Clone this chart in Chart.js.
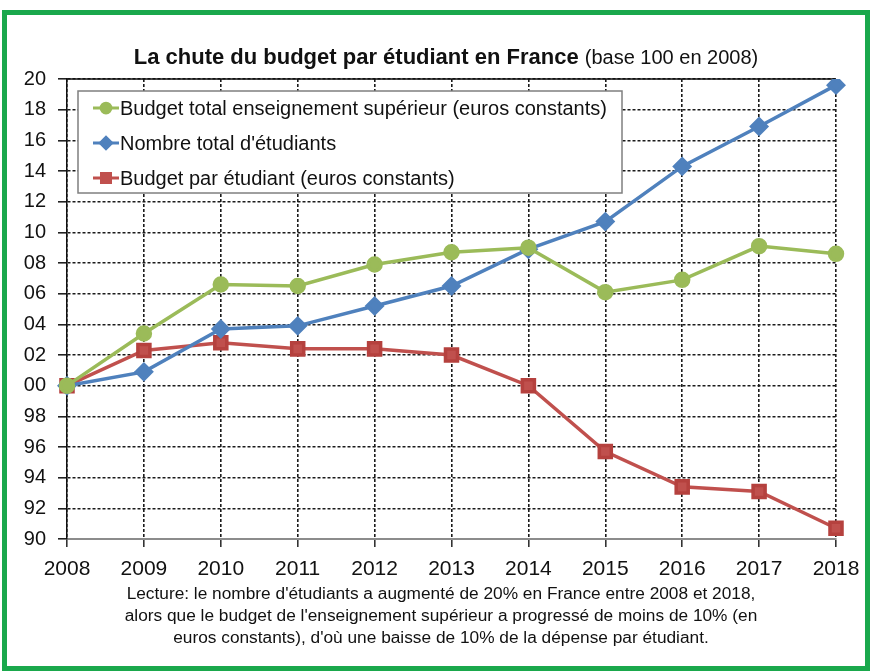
<!DOCTYPE html>
<html>
<head>
<meta charset="utf-8">
<script src="https://cdn.jsdelivr.net/npm/chart.js@4/dist/chart.umd.min.js"></script>
<style>
  html, body { margin: 0; padding: 0; background: #fff; }
  #wrap { position: relative; width: 872px; height: 671px; overflow: hidden; font-family: "Liberation Sans", Arial, sans-serif; }
  #frame { position: absolute; left: 2px; top: 10px; width: 858px; height: 651px; border: 5px solid #1aa84c; }
  #title { position: absolute; left: 0; width: 892px; top: 44px; text-align: center; font-size: 22px; font-weight: bold; color: #111; white-space: nowrap; }
  #title span { font-weight: normal; font-size: 20px; }
  #caption { position: absolute; left: 0; width: 882px; top: 582px; text-align: center; font-size: 17.3px; line-height: 22px; color: #111; }
  canvas { position: absolute; left: 0; top: 0; }
</style>
</head>
<body>
<div id="wrap">
  <canvas id="chart1" width="872" height="671"></canvas>
  <div id="frame"></div>
  <div id="title">La chute du budget par étudiant en France <span>(base 100 en 2008)</span></div>
  <div id="caption">Lecture: le nombre d'étudiants a augmenté de 20% en France entre 2008 et 2018,<br>alors que le budget de l'enseignement supérieur a progressé de moins de 10% (en<br>euros constants), d'où une baisse de 10% de la dépense par étudiant.</div>
</div>
<script>
// indices base 100 en 2008
const years = ['2008', '2009', '2010', '2011', '2012', '2013', '2014', '2015', '2016', '2017', '2018'];

const budgetTotal = [100, 103.4, 106.6, 106.5, 107.9, 108.7, 109.0, 106.1, 106.9, 109.1, 108.6];
const nbEtudiants = [100, 100.9, 103.7, 103.9, 105.2, 106.5, 108.9, 110.7, 114.3, 116.9, 119.6];
const budgetParEtudiant = [100, 102.3, 102.8, 102.4, 102.4, 102.0, 100.0, 95.7, 93.4, 93.1, 90.7];

const yTickValues = [90, 92, 94, 96, 98, 100, 102, 104, 106, 108, 110, 112, 114, 116, 118, 120];
const yTickLabels = ['90', '92', '94', '96', '98', '00', '02', '04', '06', '08', '10', '12', '14', '16', '18', '20'];

// legende dessinee dans la zone du graphique (en haut a gauche)
const insideLegend = {
    id: 'insideLegend',
    afterDatasetsDraw(chart) {
        const ctx = chart.ctx;
        const area = chart.chartArea;
        const x0 = area.left + 11, y0 = area.top + 12;
        ctx.save();
        ctx.fillStyle = '#fff';
        ctx.strokeStyle = '#7f7f7f';
        ctx.lineWidth = 1.5;
        ctx.fillRect(x0, y0, 544, 102);
        ctx.strokeRect(x0, y0, 544, 102);
        ctx.font = '20px "Liberation Sans", Arial, sans-serif';
        ctx.textBaseline = 'middle';
        chart.data.datasets.forEach((ds, i) => {
            const cy = y0 + 17 + i * 35;
            ctx.strokeStyle = ds.borderColor;
            ctx.lineWidth = 3;
            ctx.beginPath();
            ctx.moveTo(x0 + 15, cy);
            ctx.lineTo(x0 + 41, cy);
            ctx.stroke();
            ctx.fillStyle = ds.pointBackgroundColor;
            ctx.strokeStyle = ds.pointBackgroundColor;
            Chart.helpers.drawPoint(ctx, {
                pointStyle: ds.pointStyle,
                radius: ds.pointRadius * 0.75,
                borderWidth: 1
            }, x0 + 28, cy);
            ctx.fillStyle = '#111';
            ctx.fillText(ds.label, x0 + 42, cy + 1);
        });
        ctx.restore();
    },
    beforeDatasetsDraw(chart) {
        // cadre du haut en trait plein
        const ctx = chart.ctx;
        const area = chart.chartArea;
        ctx.save();
        ctx.strokeStyle = '#111';
        ctx.lineWidth = 1.5;
        ctx.beginPath();
        ctx.moveTo(area.left, area.top);
        ctx.lineTo(area.right, area.top);
        ctx.stroke();
        ctx.restore();
    }
};

const ctx1 = document.getElementById('chart1').getContext('2d');
const chart1 = new Chart(ctx1, {
    type: 'line',
    data: {
        labels: years,
        datasets: [{
            label: 'Budget total enseignement supérieur (euros constants)',
            data: budgetTotal,
            borderColor: '#9bbb59',
            backgroundColor: '#9bbb59',
            pointBackgroundColor: '#9bbb59',
            pointBorderColor: '#9bbb59',
            pointStyle: 'circle',
            pointRadius: 6.5,
            borderWidth: 3.5
        }, {
            label: "Nombre total d'étudiants",
            data: nbEtudiants,
            borderColor: '#4f81bd',
            backgroundColor: '#4f81bd',
            pointBackgroundColor: '#4f81bd',
            pointBorderColor: '#4f81bd',
            pointStyle: 'rectRot',
            pointRadius: 7.5,
            borderWidth: 3.5
        }, {
            label: 'Budget par étudiant (euros constants)',
            data: budgetParEtudiant,
            borderColor: '#c0504d',
            backgroundColor: '#c0504d',
            pointBackgroundColor: '#c0504d',
            pointBorderColor: '#b5413e',
            pointStyle: 'rect',
            pointRadius: 8.5,
            borderWidth: 3.5
        }]
    },
    options: {
        responsive: false,
        animation: false,
        layout: { padding: { left: 0, top: 79, right: 36, bottom: 90 } },
        plugins: {
            legend: { display: false },
            title: { display: false },
            tooltip: { enabled: false }
        },
        scales: {
            x: {
                offset: false,
                grid: {
                    color: '#1a1a1a',
                    lineWidth: 1.6,
                    tickLength: 8,
                    tickColor: '#333',
                    tickBorderDash: []
                },
                border: { display: true, color: '#8c8c8c', width: 2, dash: [3, 2] },
                ticks: {
                    color: '#111',
                    padding: 10,
                    maxRotation: 0,
                    font: { family: '"Liberation Sans", Arial, sans-serif', size: 21 }
                },
                afterFit(scale) { scale.height = 42; }
            },
            y: {
                min: 90,
                max: 120,
                afterBuildTicks(scale) {
                    scale.ticks = yTickValues.map(v => ({ value: v }));
                },
                grid: {
                    color: '#1a1a1a',
                    lineWidth: 1.6,
                    tickLength: 9,
                    tickColor: '#222',
                    tickBorderDash: []
                },
                border: { display: true, color: '#111', width: 1.5, dash: [3, 2] },
                ticks: {
                    color: '#111',
                    padding: 12,
                    font: { family: '"Liberation Sans", Arial, sans-serif', size: 20 },
                    callback: function(value) {
                        const i = yTickValues.indexOf(value);
                        return i >= 0 ? yTickLabels[i] : '';
                    }
                },
                afterFit(scale) { scale.width = 67; }
            }
        }
    },
    plugins: [insideLegend]
});
</script>
</body>
</html>
